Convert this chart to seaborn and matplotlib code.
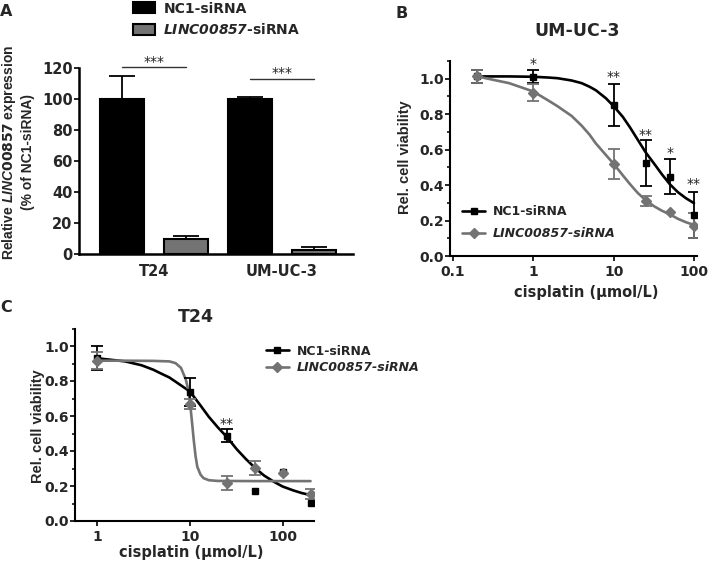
import matplotlib
matplotlib.use("Agg")
import pandas as pd
import matplotlib.pyplot as plt
from matplotlib.lines import Line2D
from matplotlib.patches import Patch
from matplotlib.ticker import NullLocator, MultipleLocator
import seaborn as sns

# ---- panel A: knockdown efficiency (% of NC1-siRNA) ----
A_CELLS = ["T24", "UM-UC-3"]
A_GROUPS = ["NC1-siRNA", "LINC00857-siRNA"]
A_NC1 = [100, 100]
A_NC1_ERR = [15, 1]
A_SI = [10, 2.5]
A_SI_ERR = [1.3, 1.8]
A_YTICKS = [0, 20, 40, 60, 80, 100, 120]
A_SIG_Y = [120.6, 112.9]
A_STAR_Y = [121.0, 114.2]

# ---- panel B: UM-UC-3 viability ----
B_DOSE = [0.2, 1, 10, 25, 50, 100]
B_NC1 = [1.013, 1.012, 0.853, 0.524, 0.448, 0.232]
B_NC1_ERR = [0.037, 0.036, 0.118, 0.128, 0.10, 0.128]
B_SI = [1.013, 0.922, 0.518, 0.311, 0.25, 0.172]
B_SI_ERR = [0.037, 0.048, 0.085, 0.028, 0, 0.068]
B_CURVE_X = [0.2, 0.5, 1, 1.5, 2, 3, 4, 5, 6, 8, 10, 13, 16, 20, 25, 32, 40, 50, 63, 80, 100]
B_CURVE_NC1 = [1.013, 1.013, 1.011, 1.007, 1.003, 0.99, 0.975, 0.955, 0.935, 0.89, 0.845,
               0.785, 0.725, 0.655, 0.585, 0.52, 0.46, 0.405, 0.36, 0.325, 0.298]
B_CURVE_SI = [1.013, 0.975, 0.928, 0.88, 0.845, 0.79, 0.735, 0.685, 0.635, 0.57, 0.52,
              0.455, 0.405, 0.355, 0.315, 0.28, 0.255, 0.235, 0.21, 0.19, 0.175]
B_STAR_X = [1, 10, 25, 50, 100]
B_STAR_Y = [1.061, 0.988, 0.66, 0.558, 0.383]
B_STARS = ["*", "**", "**", "*", "**"]

# ---- panel C: T24 viability ----
C_DOSE = [1, 10, 25, 50, 100, 200]
C_NC1 = [0.933, 0.739, 0.487, 0.171, 0.282, 0.101]
C_NC1_ERR = [0.068, 0.08, 0.038, 0, 0, 0]
C_SI = [0.916, 0.669, 0.217, 0.302, 0.272, 0.156]
C_SI_ERR = [0.05, 0.03, 0.042, 0.04, 0, 0.028]
C_CURVE_X = [1, 2, 3, 4, 5, 6, 8, 10, 13, 16, 20, 25, 32, 40, 50, 63, 80, 100, 130, 160, 200]
C_CURVE_NC1 = [0.93, 0.912, 0.89, 0.865, 0.84, 0.82, 0.775, 0.74, 0.66, 0.595, 0.535,
               0.48, 0.41, 0.355, 0.305, 0.26, 0.225, 0.197, 0.175, 0.16, 0.148]
C_CURVE_SI_X = [1, 2, 4, 6, 7, 8, 9, 9.5, 10, 10.5, 11, 11.5, 12, 13, 14, 16, 20, 50, 200]
C_CURVE_SI = [0.916, 0.916, 0.915, 0.912, 0.902, 0.875, 0.81, 0.76, 0.68, 0.57, 0.46,
              0.37, 0.31, 0.265, 0.245, 0.233, 0.229, 0.228, 0.228]
C_STAR_X = [25]
C_STAR_Y = [0.53]
C_STARS = ["**"]

VIAB_YTICKS = [0.0, 0.2, 0.4, 0.6, 0.8, 1.0]
B_XTICKS = [0.1, 1, 10, 100]
C_XTICKS = [1, 10, 100]

BLACK = "#000000"
GRAY = "#737373"

sns.set_theme(style="ticks")
plt.rcParams["font.family"] = ["DejaVu Sans"]
plt.rcParams["font.weight"] = "bold"
plt.rcParams["axes.labelweight"] = "bold"
plt.rcParams["mathtext.fontset"] = "custom"
plt.rcParams["mathtext.it"] = "Liberation Sans:italic:bold"
plt.rcParams["mathtext.bf"] = "DejaVu Sans:italic:bold"

W, H = 709, 566
fig = plt.figure(figsize=(W / 100, H / 100), dpi=100)


def box(l, t, r, b):
    return [l / W, 1 - b / H, (r - l) / W, (b - t) / H]


def style_axes(ax, lw=1.5):
    sns.despine(ax=ax)
    for s in ["left", "bottom"]:
        ax.spines[s].set_linewidth(lw)
        ax.spines[s].set_color(BLACK)
    ax.tick_params(axis="both", which="major", length=3.6, width=1.2, color=BLACK, pad=1)
    ax.tick_params(axis="both", which="minor", length=2.2, width=1.1, color=BLACK)


# ================= A =================
axA = fig.add_axes(box(79, 68, 353, 254))
dfA = pd.DataFrame({
    "cell": A_CELLS * 2,
    "group": [A_GROUPS[0]] * 2 + [A_GROUPS[1]] * 2,
    "value": A_NC1 + A_SI,
})
sns.barplot(data=dfA, x="cell", y="value", hue="group", order=A_CELLS, hue_order=A_GROUPS,
            palette=[BLACK, GRAY], width=1.0, gap=0.31, edgecolor=BLACK, linewidth=1.5,
            errorbar=None, legend=False, ax=axA)
bars = axA.patches[:4]
xs = [p.get_x() + p.get_width() / 2 for p in bars]
ys = [p.get_height() for p in bars]
errs = A_NC1_ERR + A_SI_ERR
axA.errorbar(xs, ys, yerr=[[0] * 4, errs], fmt="none", ecolor=BLACK, elinewidth=1.3,
             capsize=9.5, capthick=1.3, zorder=1)
for i in range(2):
    axA.plot([xs[i], xs[i + 2]], [A_SIG_Y[i]] * 2, color="#333333", lw=1.0, clip_on=False)
    axA.text((xs[i] + xs[i + 2]) / 2, A_STAR_Y[i], "***", ha="center", va="baseline",
             fontsize=10, fontweight="normal", color="#222222")
axA.set_xlim(-0.586, 1.555)
axA.set_ylim(0, 120)
axA.set_yticks(A_YTICKS)
axA.set_xlabel("")
axA.set_ylabel("Relative $\\mathit{LINC00857}$ expression\n(% of NC1-siRNA)",
               family="Liberation Sans", fontsize=10, fontweight="bold", linespacing=1.3)
axA.yaxis.set_label_coords(-0.1606, 0.546)
style_axes(axA, lw=1.8)
axA.tick_params(axis="x", length=0, pad=7.3, labelsize=10.5)
axA.tick_params(axis="y", labelsize=10.5, pad=1)

fig.legend(handles=[Patch(facecolor=BLACK, edgecolor=BLACK, lw=1.5),
                    Patch(facecolor=GRAY, edgecolor=BLACK, lw=1.5)],
           labels=["NC1-siRNA", "$\\mathbf{LINC00857}$-siRNA"],
           loc="center left", bbox_to_anchor=(133 / W, 1 - 19.5 / H), frameon=False,
           fontsize=10, handlelength=1.6, handleheight=0.86, handletextpad=0.58,
           labelspacing=0.5, borderpad=0, borderaxespad=0)


def series(ax, dose, vals, err, marker, color):
    ax.plot(dose, vals, linestyle="none", marker=marker, ms=5, color=color, zorder=3)
    keep = [i for i, e in enumerate(err) if e > 0]
    ax.errorbar([dose[i] for i in keep], [vals[i] for i in keep], yerr=[err[i] for i in keep],
                fmt="none", ecolor=color, elinewidth=1.3, capsize=4.5, capthick=1.3, zorder=2.5)


def viability(ax, dose, nc1, nc1_err, si, si_err, cx_nc1, cy_nc1, cx_si, cy_si,
              star_x, star_y, stars, xticks, xlim):
    ax.set_xscale("log")
    sns.lineplot(x=cx_nc1, y=cy_nc1, color=BLACK, lw=1.9, sort=False, ax=ax)
    sns.lineplot(x=cx_si, y=cy_si, color=GRAY, lw=1.9, sort=False, ax=ax)
    series(ax, dose, nc1, nc1_err, "s", BLACK)
    series(ax, dose, si, si_err, "D", GRAY)
    for sx, sy, s in zip(star_x, star_y, stars):
        ax.text(sx, sy, s, ha="center", va="baseline", fontsize=10, fontweight="normal",
                color="#222222", clip_on=False)
    ax.set_xlim(*xlim)
    ax.set_ylim(0, 1.1)
    ax.set_xticks(xticks, labels=[f"{t:g}" for t in xticks])
    ax.xaxis.set_minor_locator(NullLocator())
    ax.set_yticks(VIAB_YTICKS, labels=[f"{t:.1f}" for t in VIAB_YTICKS])
    ax.yaxis.set_minor_locator(MultipleLocator(0.1))
    style_axes(ax)
    ax.tick_params(axis="both", which="major", labelsize=10)
    ax.tick_params(axis="x", which="major", pad=3)
    ax.set_ylabel("Rel. cell viability", family="Liberation Sans", fontsize=10.5,
                  fontweight="bold")
    ax.set_xlabel("cisplatin (µmol/L)", fontsize=10.5, fontweight="bold")


def viab_legend(ax, anchor, spacing):
    handles = [Line2D([], [], color=BLACK, lw=1.9, marker="s", ms=5),
               Line2D([], [], color=GRAY, lw=1.9, marker="D", ms=5)]
    leg = ax.legend(handles, ["NC1-siRNA", "LINC00857-siRNA"], loc="center left",
                    bbox_to_anchor=anchor, frameon=False, fontsize=9, handlelength=1.84,
                    handletextpad=0.64, labelspacing=spacing, borderpad=0, borderaxespad=0)
    leg.get_texts()[1].set_fontstyle("italic")


# ================= B =================
axB = fig.add_axes(box(450, 61, 697, 256))
viability(axB, B_DOSE, B_NC1, B_NC1_ERR, B_SI, B_SI_ERR, B_CURVE_X, B_CURVE_NC1,
          B_CURVE_X, B_CURVE_SI, B_STAR_X, B_STAR_Y, B_STARS, B_XTICKS, (0.0918, 109))
axB.yaxis.set_label_coords(-0.154, 0.505)
axB.xaxis.set_label_coords(0.55, -0.149)
viab_legend(axB, (0.049, 0.17), 0.7)

# ================= C =================
axC = fig.add_axes(box(75, 328.5, 314, 521))
viability(axC, C_DOSE, C_NC1, C_NC1_ERR, C_SI, C_SI_ERR, C_CURVE_X, C_CURVE_NC1,
          C_CURVE_SI_X, C_CURVE_SI, C_STAR_X, C_STAR_Y, C_STARS, C_XTICKS, (0.575, 218))
axC.yaxis.set_label_coords(-0.1255, 0.49)
axC.xaxis.set_label_coords(0.487, -0.125)
viab_legend(axC, (0.799, 0.839), 0.3)

# titles and panel letters
fig.text(576.7 / W, 1 - 30.5 / H, "UM-UC-3", ha="center", va="center", fontsize=12.5,
         fontweight="bold")
fig.text(196 / W, 1 - 317 / H, "T24", ha="center", va="center", fontsize=12.5,
         fontweight="bold")
for letter, (lx, ly) in {"A": (6, 11), "B": (402, 13), "C": (6, 307)}.items():
    fig.text(lx / W, 1 - ly / H, letter, ha="center", va="center", fontsize=11.5,
             fontweight="bold")

fig.savefig("out.png", dpi=100)
